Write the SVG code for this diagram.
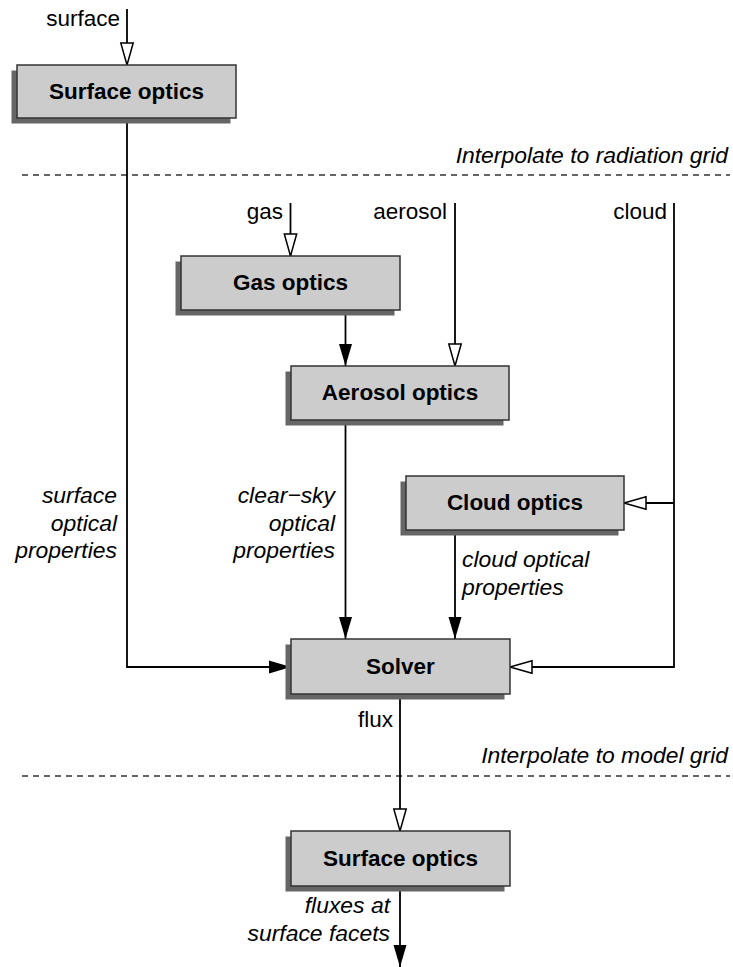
<svg xmlns="http://www.w3.org/2000/svg" width="733" height="967" viewBox="0 0 733 967">
<style>
text{font-family:"Liberation Sans",Arial,sans-serif;font-size:22.5px;fill:#000}
.b{font-weight:bold;text-anchor:middle}
.i{font-style:italic;font-size:22.9px}
.e{text-anchor:end}
.box{fill:#cccccc;stroke:#333;stroke-width:1.5}
.sh{fill:#666666}
.ln{fill:none;stroke:#000;stroke-width:1.8}
.op{marker-end:url(#open)}
.fl{marker-end:url(#fill)}
.dash{fill:none;stroke:#333;stroke-width:1.5;stroke-dasharray:6,5}
</style>
<defs>
<marker id="fill" markerUnits="userSpaceOnUse" markerWidth="24" markerHeight="16" refX="22" refY="7" orient="auto" overflow="visible">
<path d="M0,0.5 L22,7 L0,13.5 z" fill="#000" stroke="none"/>
</marker>
<marker id="open" markerUnits="userSpaceOnUse" markerWidth="24" markerHeight="16" refX="22" refY="7" orient="auto" overflow="visible">
<path d="M0,0.8 L22,7 L0,13.2 z" fill="#fff" stroke="#000" stroke-width="1.5"/>
</marker>
</defs>

<g id="dividers">
<line class="dash" x1="22" y1="175" x2="730" y2="175"/>
<text class="i e" x="728" y="163">Interpolate to radiation grid</text>
<line class="dash" x1="22" y1="776" x2="730" y2="776"/>
<text class="i e" x="728" y="763">Interpolate to model grid</text>
</g>

<g id="connectors">
<path class="ln op" d="M127,9 V65"/>
<path class="ln fl" d="M127,118 V667 H291"/>
<path class="ln op" d="M290.5,203 V256"/>
<path class="ln fl" d="M345.5,311 V366"/>
<path class="ln op" d="M455,203 V366"/>
<path class="ln fl" d="M345.5,420 V639"/>
<path class="ln op" d="M674,203 V667 H510"/>
<path class="ln op" d="M674,503 H624"/>
<path class="ln fl" d="M455,530 V639"/>
<path class="ln op" d="M400,694 V831"/>
<path class="ln fl" d="M400,886 V967"/>
</g>

<g id="labels">
<text class="e" x="120" y="26">surface</text>
<text class="e" x="283" y="219">gas</text>
<text class="e" x="447" y="219">aerosol</text>
<text class="e" x="667" y="219">cloud</text>
<text class="i e" x="117" y="503">surface</text>
<text class="i e" x="117" y="530.5">optical</text>
<text class="i e" x="117" y="558">properties</text>
<text class="i e" x="335" y="503">clear−sky</text>
<text class="i e" x="335" y="530.5">optical</text>
<text class="i e" x="335" y="558">properties</text>
<text class="i" x="462" y="567">cloud optical</text>
<text class="i" x="462" y="595">properties</text>
<text class="e" x="393" y="727">flux</text>
<text class="i e" x="390" y="913">fluxes at</text>
<text class="i e" x="390" y="941">surface facets</text>
</g>

<g id="surface-optics-top">
<rect class="sh" x="11.5" y="70.5" width="219" height="53"/>
<rect class="box" x="17" y="65" width="219" height="53"/>
<text class="b" x="126.5" y="99">Surface optics</text>
</g>

<g id="gas-optics">
<rect class="sh" x="175.5" y="261.5" width="219" height="54"/>
<rect class="box" x="181" y="256" width="219" height="54"/>
<text class="b" x="290.5" y="290">Gas optics</text>
</g>

<g id="aerosol-optics">
<rect class="sh" x="285.5" y="371.5" width="218" height="54"/>
<rect class="box" x="291" y="366" width="218" height="54"/>
<text class="b" x="400" y="400">Aerosol optics</text>
</g>

<g id="cloud-optics">
<rect class="sh" x="400.5" y="481.5" width="218" height="54"/>
<rect class="box" x="406" y="476" width="218" height="54"/>
<text class="b" x="515" y="510">Cloud optics</text>
</g>

<g id="solver">
<rect class="sh" x="285.5" y="644.5" width="219" height="55"/>
<rect class="box" x="291" y="639" width="219" height="55"/>
<text class="b" x="400.5" y="674">Solver</text>
</g>

<g id="surface-optics-bottom">
<rect class="sh" x="285.5" y="836.5" width="219" height="55"/>
<rect class="box" x="291" y="831" width="219" height="55"/>
<text class="b" x="400.5" y="866">Surface optics</text>
</g>
</svg>
